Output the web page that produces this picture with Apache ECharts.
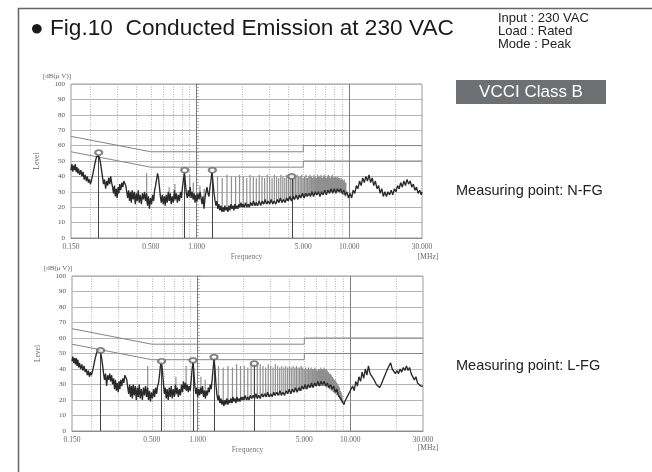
<!DOCTYPE html>
<html><head><meta charset="utf-8">
<script src="https://cdn.jsdelivr.net/npm/echarts@6.0.0/dist/echarts.min.js"></script>
<style>html,body{margin:0;padding:0;background:#fff}#c{width:652px;height:472px}</style>
</head><body><div id="c"></div>
<script>
// ---------- data (frequency in MHz, level in dB(uV)) ----------
const freqLabels = [0.15, 0.5, 1, 5, 10, 30];
const gridFreqs = [0.2, 0.3, 0.4, 0.5, 0.6, 0.7, 0.8, 0.9, 1, 2, 3, 4, 5, 6, 7, 8, 9, 10, 20];
const majorFreqs = [1, 10];
const limitQP = [[0.15, 66], [0.5, 56], [5, 56], [5, 60], [30, 60]];
const limitAV = [[0.15, 56], [0.5, 46], [5, 46], [5, 50], [30, 50]];

const traceNFG = [[0.150,44],[0.152,48],[0.154,43],[0.156,47],[0.158,44],[0.160,48],[0.162,43],[0.164,46],[0.166,42],[0.168,45],[0.171,41],[0.174,44],[0.177,40],[0.180,43],[0.183,38],[0.186,41],[0.189,37],[0.192,40],[0.195,36],[0.198,38],[0.201,35],[0.205,38],[0.209,42],[0.213,46],[0.217,50],[0.221,53],[0.225,54],[0.229,53],[0.233,50],[0.237,45],[0.241,40],[0.245,35],[0.249,38],[0.253,32],[0.257,37],[0.261,34],[0.265,39],[0.269,35],[0.273,40],[0.277,36],[0.281,33],[0.285,29],[0.289,34],[0.293,27],[0.297,32],[0.301,26],[0.305,33],[0.309,29],[0.313,35],[0.318,31],[0.323,36],[0.328,33],[0.333,37],[0.338,38],[0.343,34],[0.348,30],[0.353,26],[0.358,31],[0.363,24],[0.368,30],[0.373,23],[0.378,31],[0.384,25],[0.390,30],[0.396,22],[0.402,29],[0.408,24],[0.414,31],[0.420,23],[0.427,28],[0.434,22],[0.441,29],[0.448,25],[0.455,30],[0.462,24],[0.469,29],[0.476,21],[0.483,27],[0.490,19],[0.498,26],[0.506,22],[0.514,28],[0.522,24],[0.530,31],[0.538,34],[0.546,38],[0.554,42],[0.562,39],[0.570,33],[0.578,27],[0.586,23],[0.595,28],[0.604,22],[0.613,27],[0.622,21],[0.631,28],[0.641,23],[0.651,30],[0.661,24],[0.671,29],[0.681,22],[0.692,27],[0.703,23],[0.714,31],[0.725,25],[0.736,29],[0.747,23],[0.759,28],[0.771,24],[0.783,30],[0.795,26],[0.807,33],[0.819,38],[0.831,43],[0.843,36],[0.855,29],[0.868,26],[0.881,31],[0.894,27],[0.907,33],[0.920,26],[0.934,30],[0.948,25],[0.962,29],[0.976,23],[0.990,28],[1.005,24],[1.020,29],[1.036,25],[1.052,30],[1.068,26],[1.084,22],[1.100,27],[1.117,19],[1.134,26],[1.151,30],[1.168,33],[1.186,29],[1.204,27],[1.222,33],[1.240,37],[1.258,43],[1.277,37],[1.296,30],[1.316,25],[1.336,21],[1.356,24],[1.377,19],[1.398,22],[1.419,18],[1.441,21],[1.463,17],[1.485,20],[1.508,17],[1.531,21],[1.554,18],[1.578,20],[1.602,17],[1.626,21],[1.651,18],[1.676,22],[1.702,19],[1.728,21],[1.754,18],[1.781,22],[1.808,19],[1.836,21],[1.864,19],[1.892,22],[1.921,20],[1.950,23],[1.980,20],[2.010,22],[2.05,20],[2.09,23],[2.13,20],[2.17,22],[2.21,20],[2.26,23],[2.31,21],[2.36,24],[2.41,21],[2.46,23],[2.51,21],[2.57,24],[2.63,21],[2.69,24],[2.75,22],[2.81,25],[2.87,22],[2.94,24],[3.01,22],[3.08,25],[3.15,22],[3.22,24],[3.30,22],[3.38,25],[3.46,23],[3.54,26],[3.62,23],[3.71,25],[3.80,23],[3.89,26],[3.98,24],[4.08,27],[4.18,24],[4.28,27],[4.38,25],[4.49,28],[4.60,25],[4.71,28],[4.82,26],[4.94,29],[5.06,26],[5.18,29],[5.31,27],[5.44,29],[5.57,27],[5.70,30],[5.84,27],[5.98,30],[6.13,28],[6.28,30],[6.43,27],[6.59,30],[6.75,28],[6.91,31],[7.08,28],[7.25,31],[7.43,29],[7.61,32],[7.79,29],[7.98,32],[8.17,29],[8.37,32],[8.57,30],[8.78,32],[8.99,29],[9.21,31],[9.43,28],[9.66,30],[9.89,26],[10.13,29],[10.37,26],[10.62,31],[10.88,29],[11.14,34],[11.41,32],[11.69,37],[11.97,34],[12.26,39],[12.56,36],[12.86,40],[13.17,37],[13.49,41],[13.82,36],[14.15,39],[14.49,34],[14.84,37],[15.20,32],[15.57,34],[15.95,29],[16.33,32],[16.73,27],[17.13,30],[17.55,27],[17.97,30],[18.40,28],[18.85,31],[19.30,28],[19.77,32],[20.25,30],[20.74,34],[21.24,32],[21.75,36],[22.28,33],[22.82,37],[23.37,34],[23.93,38],[24.51,35],[25.10,37],[25.71,33],[26.33,35],[26.96,31],[27.61,33],[28.28,29],[28.96,31],[29.66,28],[30.00,30]];

// spikes: [frequency, floor, top]
const spikesNFG = [[0.47,23,42],[0.66,24,33],[0.72,24,35],[0.90,26,41],[0.95,25,36],[1.05,25,34],[1.12,22,32],[1.37,19,40],[1.47,18,39],[1.58,18,41],[1.69,19,40],[1.80,19,40],[1.91,20,41],[2.02,20,40],[2.13,20,39],[2.24,21,41],[2.35,21,40],[2.46,21,39],[2.57,22,41],[2.68,22,40],[2.79,22,39],[2.90,22,41],[3.01,23,40],[3.12,23,39],[3.23,23,41],[3.34,23,40],[3.45,23,39],[3.56,24,41],[3.67,24,40],[3.78,24,39],[3.89,24,41],[4.00,25,40],[4.11,25,39],[4.22,25,41],[4.33,25,40],[4.44,26,39],[4.55,26,41],[4.66,26,40],[4.77,26,40],[4.88,27,41],[4.99,27,39],[5.10,27,40],[5.21,27,41],[5.32,27,39],[5.43,28,40],[5.54,28,41],[5.65,28,40],[5.76,28,39],[5.87,28,41],[5.98,28,40],[6.09,29,39],[6.20,29,41],[6.31,29,40],[6.42,29,40],[6.53,29,41],[6.64,29,39],[6.75,30,40],[6.86,30,41],[6.97,30,40],[7.08,30,39],[7.19,30,40],[7.30,30,41],[7.41,30,40],[7.52,30,39],[7.63,30,40],[7.74,30,41],[7.85,30,40],[7.96,30,39],[8.07,30,40],[8.18,30,40],[8.29,30,39],[8.40,30,40],[8.51,30,39],[8.62,29,39],[8.73,29,38],[8.84,29,39],[8.95,29,38],[9.06,28,38],[9.17,28,37],[9.28,28,38],[9.39,27,36],[9.50,27,36]];
const markersNFG = [[0.228,55.5],[0.835,44],[1.267,44],[4.2,40]];

const traceLFG = [[0.150,45],[0.152,48],[0.154,44],[0.156,47],[0.158,43],[0.160,47],[0.162,42],[0.164,46],[0.166,41],[0.168,44],[0.171,40],[0.174,43],[0.177,39],[0.180,42],[0.183,38],[0.186,40],[0.189,36],[0.192,39],[0.195,35],[0.198,38],[0.201,36],[0.205,39],[0.209,43],[0.213,47],[0.217,50],[0.221,52],[0.225,53],[0.229,52],[0.233,49],[0.237,44],[0.241,38],[0.245,33],[0.249,37],[0.253,29],[0.257,36],[0.261,33],[0.265,37],[0.269,32],[0.273,36],[0.277,30],[0.281,34],[0.285,27],[0.289,33],[0.293,26],[0.297,31],[0.301,25],[0.305,32],[0.309,27],[0.313,33],[0.318,29],[0.323,34],[0.328,31],[0.333,36],[0.338,37],[0.343,33],[0.348,28],[0.353,24],[0.358,30],[0.363,22],[0.368,29],[0.373,21],[0.378,30],[0.384,23],[0.390,29],[0.396,20],[0.402,28],[0.408,22],[0.414,30],[0.420,21],[0.427,27],[0.434,20],[0.441,28],[0.448,23],[0.455,29],[0.462,22],[0.469,28],[0.476,20],[0.483,26],[0.490,19],[0.498,25],[0.506,21],[0.514,27],[0.522,22],[0.530,28],[0.538,24],[0.546,29],[0.554,31],[0.562,36],[0.570,42],[0.578,45],[0.586,40],[0.595,32],[0.604,24],[0.613,28],[0.622,21],[0.631,27],[0.641,20],[0.651,28],[0.661,22],[0.671,29],[0.681,21],[0.692,27],[0.703,22],[0.714,30],[0.725,24],[0.736,28],[0.747,22],[0.759,27],[0.771,23],[0.783,30],[0.795,25],[0.807,32],[0.819,27],[0.831,31],[0.843,26],[0.855,30],[0.868,25],[0.881,29],[0.894,26],[0.907,33],[0.920,40],[0.932,45],[0.945,38],[0.958,29],[0.972,24],[0.986,28],[1.000,22],[1.015,27],[1.030,23],[1.045,28],[1.060,24],[1.076,29],[1.092,22],[1.108,26],[1.124,21],[1.140,26],[1.157,23],[1.174,28],[1.191,25],[1.208,30],[1.226,27],[1.244,33],[1.262,40],[1.280,47],[1.299,40],[1.318,30],[1.338,23],[1.358,20],[1.378,23],[1.399,18],[1.420,21],[1.441,17],[1.463,20],[1.485,16],[1.508,20],[1.531,17],[1.554,21],[1.578,17],[1.602,20],[1.626,18],[1.651,21],[1.676,18],[1.702,22],[1.728,19],[1.754,21],[1.781,18],[1.808,22],[1.836,19],[1.864,21],[1.892,19],[1.921,22],[1.950,20],[1.980,22],[2.010,20],[2.05,23],[2.09,20],[2.13,22],[2.17,20],[2.21,23],[2.26,21],[2.31,23],[2.36,21],[2.41,24],[2.46,21],[2.51,23],[2.57,21],[2.63,24],[2.69,22],[2.75,24],[2.81,22],[2.87,25],[2.94,22],[3.01,24],[3.08,22],[3.15,25],[3.22,23],[3.30,25],[3.38,23],[3.46,26],[3.54,23],[3.62,25],[3.71,23],[3.80,26],[3.89,24],[3.98,27],[4.08,24],[4.18,27],[4.28,25],[4.38,28],[4.49,25],[4.60,28],[4.71,26],[4.82,29],[4.94,27],[5.06,30],[5.18,27],[5.31,30],[5.44,28],[5.57,31],[5.70,28],[5.84,31],[5.98,29],[6.13,32],[6.28,29],[6.43,32],[6.59,30],[6.75,32],[6.91,29],[7.08,31],[7.25,28],[7.43,30],[7.61,27],[7.79,29],[7.98,25],[8.17,27],[8.37,23],[8.57,24],[8.78,20],[8.99,19],[9.10,17],[9.21,19],[9.43,21],[9.66,23],[9.89,25],[10.13,24],[10.37,29],[10.62,26],[10.88,32],[11.14,29],[11.41,35],[11.69,32],[11.97,38],[12.26,34],[12.56,40],[12.86,36],[13.17,42],[13.49,37],[13.82,38],[14.15,34],[14.49,33],[14.84,30],[15.20,31],[15.57,28],[15.95,30],[16.33,31],[16.73,35],[17.13,36],[17.55,40],[17.97,41],[18.40,44],[18.85,40],[19.30,39],[19.77,37],[20.25,39],[20.74,37],[21.24,40],[21.75,38],[22.28,41],[22.82,39],[23.37,42],[23.93,39],[24.51,41],[25.10,37],[25.71,37],[26.33,33],[26.96,35],[27.61,31],[28.28,32],[28.96,29],[29.66,30],[30.00,29]];

const spikesLFG = [[0.47,22,42],[0.72,23,35],[0.84,26,42],[1.05,24,35],[1.12,22,33],[1.37,19,42],[1.47,17,41],[1.58,18,42],[1.69,18,41],[1.80,19,43],[1.91,19,42],[2.02,20,42],[2.13,20,41],[2.24,21,43],[2.35,21,43],[2.46,21,42],[2.57,22,43],[2.68,22,42],[2.79,22,41],[2.90,22,43],[3.01,23,42],[3.12,23,41],[3.23,23,43],[3.34,23,42],[3.45,23,41],[3.56,24,42],[3.67,24,41],[3.78,24,42],[3.89,24,41],[4.00,25,42],[4.11,25,41],[4.22,25,42],[4.33,25,41],[4.44,26,42],[4.55,26,41],[4.66,26,41],[4.77,26,42],[4.88,27,41],[4.99,27,40],[5.10,27,41],[5.21,27,40],[5.32,28,41],[5.43,28,40],[5.54,28,41],[5.65,28,40],[5.76,28,40],[5.87,29,41],[5.98,29,40],[6.09,29,39],[6.20,29,40],[6.31,29,40],[6.42,29,41],[6.53,29,40],[6.64,29,40],[6.75,29,41],[6.86,29,40],[6.97,28,40],[7.08,28,39],[7.19,28,38],[7.30,27,37],[7.41,27,37],[7.52,26,36],[7.63,26,35],[7.74,25,34],[7.85,25,33],[7.96,24,33],[8.07,24,32],[8.18,23,31],[8.29,23,30],[8.40,22,29],[8.51,21,28],[8.62,20,26],[8.73,19,25],[8.84,18,23]];
const markersLFG = [[0.231,52],[0.58,45],[0.932,45.6],[1.28,47.7],[2.35,43.5]];

// ---------- chart ----------
const lg = f => Math.log10(f);
const toXY = arr => arr.map(p => [lg(p[0]), p[1]]);
const spikeLine = sp => { const o = []; sp.forEach(s => { o.push([lg(s[0]), s[1]], [lg(s[0]), s[2]], [lg(s[0]), '-']); }); return o; };

const SERIF = "'Liberation Serif', 'DejaVu Serif', serif";
const SANS = "'Liberation Sans', Arial, sans-serif";
const grids = [
  {left: 71, top: 84, width: 351, height: 154},
  {left: 72, top: 276, width: 351, height: 155}
];

function xAxisFor(gi) {
  return {
    type: 'value', gridIndex: gi, min: lg(0.15), max: lg(30),
    axisLine: {show: true, lineStyle: {color: '#8c8c8c', width: 1}},
    axisTick: {show: false, customValues: gridFreqs.map(lg)},
    axisLabel: {customValues: freqLabels.map(lg), formatter: v => Math.pow(10, v).toFixed(3),
      fontFamily: SERIF, fontSize: 7.5, color: '#666', margin: 5},
    splitLine: {show: true, lineStyle: {color: '#b5b5b5', type: [1, 1.5], width: 1}},
    name: 'Frequency', nameLocation: 'middle', nameGap: 15,
    nameTextStyle: {fontFamily: SERIF, fontSize: 7.5, color: '#777'}
  };
}
function yAxisFor(gi) {
  return {
    type: 'value', gridIndex: gi, min: 0, max: 100, interval: 10,
    axisLine: {show: true, lineStyle: {color: '#8c8c8c', width: 1}},
    axisTick: {show: true, inside: true, length: 3, lineStyle: {color: '#999'}},
    minorTick: {show: true, splitNumber: 5, length: 2, lineStyle: {color: '#aaa'}},
    axisLabel: {fontFamily: SERIF, fontSize: 7, color: '#555', margin: 6},
    splitLine: {show: true, lineStyle: {color: '#b5b5b5', width: 1}},
    name: 'Level', nameLocation: 'middle', nameGap: 30, nameRotate: 90,
    nameTextStyle: {fontFamily: SERIF, fontSize: 7.5, color: '#666'}
  };
}
function seriesFor(gi, trace, spikes, markers) {
  const base = {xAxisIndex: gi, yAxisIndex: gi, showSymbol: false, silent: true, animation: false};
  return [
    Object.assign({}, base, {type: 'line', name: 'QP limit ' + gi, data: toXY(limitQP),
      lineStyle: {color: '#858585', width: 1}, z: 3,
      markLine: {silent: true, symbol: 'none', label: {show: false},
        lineStyle: {color: '#7d7d7d', type: 'solid', width: 1},
        data: majorFreqs.map(f => ({xAxis: lg(f)}))}}),
    Object.assign({}, base, {type: 'line', name: 'AV limit ' + gi, data: toXY(limitAV),
      lineStyle: {color: '#858585', width: 1}, z: 3}),
    Object.assign({}, base, {type: 'line', name: 'spikes ' + gi, data: spikeLine(spikes),
      connectNulls: false, lineStyle: {color: '#8f8f8f', width: 1.2}, z: 4}),
    Object.assign({}, base, {type: 'line', name: 'trace ' + gi, data: toXY(trace),
      lineStyle: {color: '#2a2a2a', width: 1.35}, z: 5}),
    Object.assign({}, base, {type: 'scatter', name: 'markers ' + gi, data: toXY(markers),
      symbol: 'emptyCircle', symbolSize: [7, 5],
      itemStyle: {color: '#666', borderWidth: 1}, z: 6,
      markLine: {silent: true, symbol: 'none', label: {show: false},
        lineStyle: {color: '#444', type: 'solid', width: 1},
        data: markers.map(m => [{coord: [lg(m[0]), 0]}, {coord: [lg(m[0]), m[1] - 1.5]}])}})
  ];
}

const chart = echarts.init(document.getElementById('c'), null, {renderer: 'canvas'});
chart.setOption({
  animation: false,
  backgroundColor: '#fff',
  grid: grids.map(g => Object.assign({show: true, borderColor: '#9a9a9a', borderWidth: 1}, g)),
  xAxis: [xAxisFor(0), xAxisFor(1)],
  yAxis: [yAxisFor(0), yAxisFor(1)],
  series: [].concat(seriesFor(0, traceNFG, spikesNFG, markersNFG), seriesFor(1, traceLFG, spikesLFG, markersLFG)),
  graphic: [
    {type: 'rect', left: 16, top: 6, shape: {x: 0, y: 0, width: 700, height: 520}, style: {fill: 'none', stroke: '#666', lineWidth: 1.5}, silent: true, z: 0},
    {type: 'text', x: 30, y: 29, scaleX: 1.03, style: {text: '\u25CF Fig.10  Conducted Emission at 230 VAC', font: '22px ' + SANS, fill: '#1a1a1a', textVerticalAlign: 'middle'}},
    {type: 'text', x: 498, y: 18, style: {text: 'Input : 230 VAC', font: '13px ' + SANS, fill: '#222', textVerticalAlign: 'middle'}},
    {type: 'text', x: 498, y: 31, style: {text: 'Load : Rated', font: '13px ' + SANS, fill: '#222', textVerticalAlign: 'middle'}},
    {type: 'text', x: 498, y: 44, style: {text: 'Mode : Peak', font: '13px ' + SANS, fill: '#222', textVerticalAlign: 'middle'}},
    {type: 'rect', shape: {x: 456, y: 80, width: 150, height: 24}, style: {fill: '#6e6f71'}},
    {type: 'text', x: 531, y: 92, style: {text: 'VCCI Class B', font: '17px ' + SANS, fill: '#fff', textAlign: 'center', textVerticalAlign: 'middle'}},
    {type: 'text', x: 456, y: 191, style: {text: 'Measuring point: N-FG', font: '14.5px ' + SANS, fill: '#222', textVerticalAlign: 'middle'}},
    {type: 'text', x: 456, y: 366, style: {text: 'Measuring point: L-FG', font: '14.5px ' + SANS, fill: '#222', textVerticalAlign: 'middle'}},
    {type: 'text', x: 43, y: 76, style: {text: '[dB(\u03BC V)]', font: '7px ' + SERIF, fill: '#666', textVerticalAlign: 'middle'}},
    {type: 'text', x: 44, y: 268, style: {text: '[dB(\u03BC V)]', font: '7px ' + SERIF, fill: '#666', textVerticalAlign: 'middle'}},
    {type: 'text', x: 428, y: 257, style: {text: '[MHz]', font: '7.5px ' + SERIF, fill: '#666', textAlign: 'center', textVerticalAlign: 'middle'}},
    {type: 'text', x: 428, y: 448, style: {text: '[MHz]', font: '7.5px ' + SERIF, fill: '#666', textAlign: 'center', textVerticalAlign: 'middle'}}
  ]
});
</script></body></html>
